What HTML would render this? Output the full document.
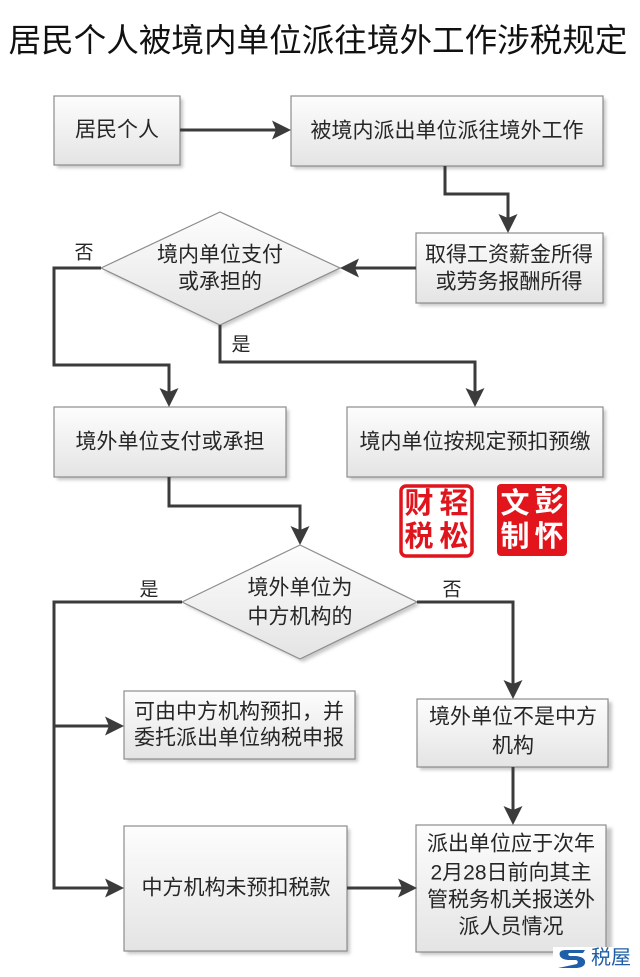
<!DOCTYPE html>
<html><head><meta charset="utf-8"><style>
html,body{margin:0;padding:0;background:#fff;}
svg{display:block;}
text{font-family:"Liberation Sans","Noto Sans CJK SC",sans-serif;fill:#262626;}
</style></head><body>
<svg width="640" height="977" viewBox="0 0 640 977" xmlns="http://www.w3.org/2000/svg">
<defs>
<linearGradient id="g" x1="0" y1="0" x2="0" y2="1">
<stop offset="0" stop-color="#fdfdfd"/><stop offset="1" stop-color="#e4e4e4"/>
</linearGradient>
<filter id="sh" x="-10%" y="-10%" width="130%" height="130%">
<feGaussianBlur stdDeviation="1.5"/>
</filter>
</defs>
<rect width="640" height="977" fill="#fff"/>
<text x="318" y="40" font-size="32.6" text-anchor="middle" dominant-baseline="central" fill="#111" style="fill:#111">居民个人被境内单位派往境外工作涉税规定</text>

<!-- shadows -->
<g fill="#c8c8c8" filter="url(#sh)">
<rect x="57" y="99" width="126" height="69"/>
<rect x="294" y="99" width="312" height="70"/>
<rect x="419" y="236" width="187" height="70"/>
<rect x="57" y="410" width="232" height="70"/>
<rect x="350" y="410" width="256" height="70"/>
<rect x="127" y="694" width="231" height="68"/>
<rect x="420" y="702" width="192" height="68"/>
<rect x="420" y="828" width="192" height="127"/>
<rect x="127" y="829" width="223" height="125"/>
<polygon points="104,271 222,215 342,271 222,328"/>
<polygon points="185,605 303,548 420,605 303,662"/>
</g>

<!-- boxes -->
<g fill="url(#g)" stroke="#8c8c8c" stroke-width="1.2">
<rect x="54" y="96" width="126" height="69"/>
<rect x="291" y="96" width="312" height="70"/>
<rect x="416" y="233" width="187" height="70"/>
<rect x="54" y="407" width="232" height="70"/>
<rect x="347" y="407" width="256" height="70"/>
<rect x="124" y="691" width="231" height="68"/>
<rect x="417" y="699" width="191" height="68"/>
<rect x="416" y="825" width="190" height="127"/>
<rect x="124" y="826" width="223" height="125"/>
<polygon points="101,268 220,212 340,268 220,325"/>
<polygon points="182,602 300,545 417,602 300,659"/>
</g>

<!-- connectors -->
<g fill="none" stroke="#3b3b3b" stroke-width="3" stroke-linejoin="miter">
<polyline points="180,130 276,130"/>
<polyline points="445,166 445,194 508,194 508,218"/>
<polyline points="416,268 355,268"/>
<polyline points="101,268 54,268 54,365 169,365 169,392"/>
<polyline points="220,325 220,362 475,362 475,392"/>
<polyline points="169,477 169,506 300,506 300,530"/>
<polyline points="182,602 54,602 54,888 109,888"/>
<polyline points="54,726 109,726"/>
<polyline points="417,602 513,602 513,684"/>
<polyline points="513,767 513,810"/>
<polyline points="347,888 402,888"/>
</g>

<!-- arrowheads -->
<g fill="#3b3b3b">
<polygon points="291,130 272,120.5 276,130 272,139.5"/>
<polygon points="508,233 498.5,214 508,218 517.5,214"/>
<polygon points="340,268 359,258.5 355,268 359,277.5"/>
<polygon points="169,407 159.5,388 169,392 178.5,388"/>
<polygon points="475,407 465.5,388 475,392 484.5,388"/>
<polygon points="300,545 290.5,526 300,530 309.5,526"/>
<polygon points="124,726 105,716.5 109,726 105,735.5"/>
<polygon points="124,888 105,878.5 109,888 105,897.5"/>
<polygon points="513,699 503.5,680 513,684 522.5,680"/>
<polygon points="513,825 503.5,806 513,810 522.5,806"/>
<polygon points="417,888 398,878.5 402,888 398,897.5"/>
</g>

<!-- texts -->
<g font-size="21" text-anchor="middle" dominant-baseline="central">
<text x="117" y="130">居民个人</text>
<text x="447" y="131">被境内派出单位派往境外工作</text>
<text x="509" y="255">取得工资薪金所得</text>
<text x="509" y="282">或劳务报酬所得</text>
<text x="220" y="255">境内单位支付</text>
<text x="220" y="282">或承担的</text>
<text x="170" y="442">境外单位支付或承担</text>
<text x="475" y="442">境内单位按规定预扣预缴</text>
<text x="300" y="588">境外单位为</text>
<text x="300" y="617">中方机构的</text>
<text x="239" y="712">可由中方机构预扣，并</text>
<text x="239" y="738">委托派出单位纳税申报</text>
<text x="513" y="717">境外单位不是中方</text>
<text x="513" y="746">机构</text>
<text x="511" y="844">派出单位应于次年</text>
<text x="511" y="873">2月28日前向其主</text>
<text x="511" y="900">管税务机关报送外</text>
<text x="511" y="927">派人员情况</text>
<text x="236" y="888">中方机构未预扣税款</text>
</g>
<g font-size="19" text-anchor="middle" dominant-baseline="central">
<text x="84" y="253">否</text>
<text x="241" y="345">是</text>
<text x="149" y="590">是</text>
<text x="452" y="590">否</text>
</g>

<!-- stamps -->
<rect x="401" y="486" width="71" height="70" rx="5" fill="#fff" stroke="#e0141c" stroke-width="3.5"/>
<g font-size="29" text-anchor="middle" dominant-baseline="central" style="fill:#e0141c" font-weight="bold">
<text x="419" y="504" style="fill:#e0141c">财</text>
<text x="454" y="504" style="fill:#e0141c">轻</text>
<text x="419" y="537" style="fill:#e0141c">税</text>
<text x="454" y="537" style="fill:#e0141c">松</text>
</g>
<rect x="497" y="484" width="70" height="72" rx="4" fill="#e3151c"/>
<g font-size="29" text-anchor="middle" dominant-baseline="central" font-weight="bold">
<text x="515" y="504" style="fill:#fff">文</text>
<text x="549" y="502" style="fill:#fff">彭</text>
<text x="515" y="537" style="fill:#fff">制</text>
<text x="549" y="537" style="fill:#fff">怀</text>
</g>

<!-- watermark -->
<rect x="553" y="947" width="87" height="23" fill="#fff"/>
<path d="M585,950 L566,950 Q558,950 560,956 Q562,960 570,960 L576,960 Q579,961 577,964 L558,968 L577,968 Q586,967 585,961 Q584,957 576,956 L570,956 Q567,955 569,953 L583,953 Z" fill="#1f5ea8"/>
<text x="611" y="958" font-size="20" text-anchor="middle" dominant-baseline="central" style="fill:#1f5ea8">税屋</text>
</svg>
</body></html>
